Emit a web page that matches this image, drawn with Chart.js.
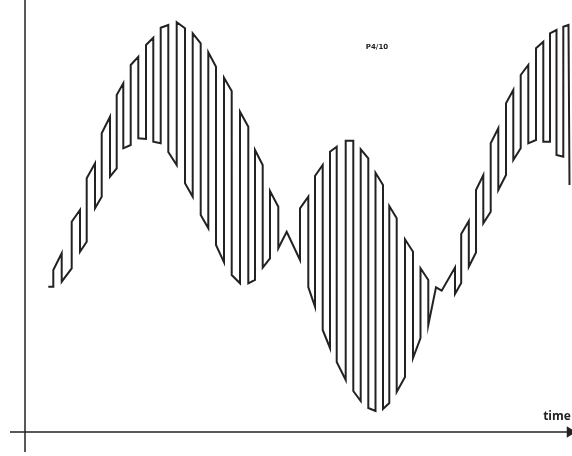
<!DOCTYPE html>
<html>
<head>
<meta charset="utf-8">
<script src="https://cdn.jsdelivr.net/npm/chart.js@4.4.1/dist/chart.umd.min.js"></script>
<style>
html,body{margin:0;padding:0;background:#fff;}
canvas{display:block;}
</style>
</head>
<body>
<canvas id="c" width="572" height="456"></canvas>
<script>
// Chopped waveform: vertices (time, signal) (arbitrary units)
const time = [
23.3,28.3,28.3,36.7,36.7,46.7,46.7,55,55,61.7,61.7,70,70,76.7,76.7,85,85,91.7,91.7,98.3,
98.3,105.7,105.7,113.3,113.3,121,121,128.3,128.3,135.7,135.7,143.3,143.3,151.7,151.7,160,160,167.7,167.7,175.7,
175.7,183.3,183.3,191,191,199,199,206.7,206.7,215,215,223.3,223.3,230,230,237.7,237.7,245,245,253.3,
253.3,261.7,275,275,283.3,283.3,290,290,297.7,297.7,305,305,311.7,311.7,320.7,320.7,328.3,328.3,335.7,335.7,
343.3,343.3,350.5,350.5,358,358,364.3,364.3,371.7,371.7,380,380,388,388,395.5,395.5,403.3,403.3,411,416.7,
430,430,436.2,436.2,443.8,443.8,451,451,458.3,458.3,465.7,465.7,473.3,473.3,481,481,488.3,488.3,495.7,495.7,
503.3,503.3,511,511,518.3,518.3,525,525,531.5,531.5,538.3,538.3,543.5,544.5
];
const signal = [
145.3,145.3,162,178.7,150.3,163.7,210.3,222,180.3,190.3,253.7,268.7,223.7,235.3,298.7,315.3,255.3,263.7,337,348.7,
283.7,287,367,375.3,293.7,293,387,394.3,290.3,288.7,404.3,407,280,267,409.7,403.7,248.7,235.3,398.7,388.7,
217,203.7,379.7,365.3,187,169.7,354.3,341,157,148.7,320.3,305.3,148.7,152,282,267,164.3,173.7,241,225.3,
183.7,200.3,172,223.7,235.3,145,125.3,256,267,102,84,280.3,285.3,70,52,291.3,291.3,41,31,282.7,
273.7,24,21,259.3,247,23,29,226,213.7,40,55,192.7,180.3,74,94,163.7,152,107,144.7,141.3,
164.5,138,149,198,211,165.3,179.5,242,257,208.7,220.3,288.7,303.7,242,257,328.7,342,272,283.7,357,
367,288.7,292,383.7,390.3,290.3,290.3,398.7,402,277,275.3,405.3,407,247
];
// axes extents (same units)
const xAxisFrom = -15, xAxisTo = 545;
const yAxisFrom = -20, yAxisTo = 432;
const labels = { time: 'time', code: 'P4/10' };

const wave = time.map((t, i) => ({ x: t, y: signal[i] }));

const textPlugin = {
  id: 'texts',
  afterDatasetsDraw(chart) {
    const { ctx, scales: { x, y } } = chart;
    ctx.save();
    ctx.fillStyle = '#222';
    ctx.textBaseline = 'middle';
    ctx.textAlign = 'center';
    ctx.font = 'bold 12px "Open Sans", sans-serif';
    ctx.fillText(labels.time, x.getPixelForValue(532), y.getPixelForValue(15));
    ctx.font = 'bold 7px "DejaVu Sans", sans-serif';
    ctx.fillText(labels.code, x.getPixelForValue(352), y.getPixelForValue(385));
    ctx.restore();
  }
};

new Chart(document.getElementById('c'), {
  type: 'line',
  data: {
    datasets: [
      {
        data: wave,
        borderColor: '#222',
        borderWidth: 2,
        pointRadius: 0,
        tension: 0,
        fill: false,
        borderJoinStyle: 'miter'
      },
      {
        data: [{ x: xAxisFrom, y: 0 }, { x: xAxisTo, y: 0 }],
        borderColor: '#222',
        borderWidth: 1.5,
        pointRadius: [0, 5],
        pointStyle: 'triangle',
        rotation: 90,
        pointBackgroundColor: '#222',
        pointBorderColor: '#222',
        tension: 0
      },
      {
        data: [{ x: 0, y: yAxisFrom }, { x: 0, y: yAxisTo }],
        borderColor: '#222',
        borderWidth: 1.5,
        pointRadius: 0,
        tension: 0
      }
    ]
  },
  options: {
    responsive: false,
    animation: false,
    events: [],
    layout: { padding: 0, autoPadding: false },
    plugins: { legend: { display: false }, tooltip: { enabled: false } },
    scales: {
      x: { type: 'linear', min: -25, max: 547, display: false },
      y: { type: 'linear', min: -24, max: 432, display: false }
    },
    clip: false
  },
  plugins: [textPlugin]
});
</script>
</body>
</html>
